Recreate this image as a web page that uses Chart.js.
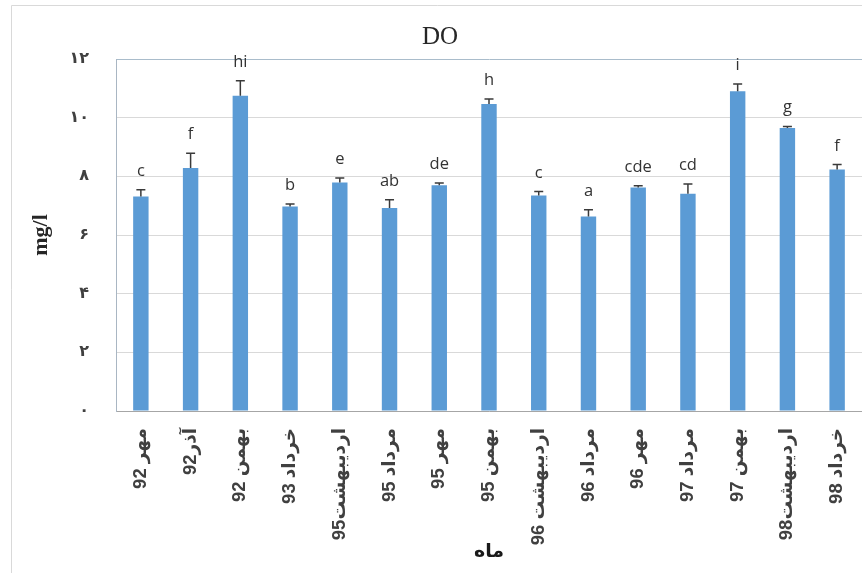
<!DOCTYPE html>
<html>
<head>
<meta charset="utf-8">
<script src="https://cdn.jsdelivr.net/npm/chart.js@4.4.1/dist/chart.umd.min.js"></script>
<style>
  html, body { margin: 0; padding: 0; background: #ffffff; }
  #wrap { width: 862px; height: 573px; position: relative; }
</style>
</head>
<body>
<div id="wrap"><canvas id="c" width="862" height="573" dir="rtl"></canvas></div>
<script>
// ---- data ----
const categories = ['مهر 92', 'آذر92', 'بهمن 92', 'خرداد 93', 'اردیبهشت95', 'مرداد 95', 'مهر 95', 'بهمن 95', 'اردیبهشت 96', 'مرداد 96', 'مهر 96', 'مرداد 97', 'بهمن 97', 'اردیبهشت98', 'خرداد 98'];
const doMeans = [7.31, 8.28, 10.75, 6.97, 7.79, 6.92, 7.70, 10.47, 7.35, 6.63, 7.62, 7.41, 10.90, 9.65, 8.23];
const doErrors = [0.23, 0.51, 0.51, 0.09, 0.15, 0.28, 0.07, 0.17, 0.13, 0.23, 0.06, 0.33, 0.25, 0.05, 0.17];
const groupLetters = ['c', 'f', 'hi', 'b', 'e', 'ab', 'de', 'h', 'c', 'a', 'cde', 'cd', 'i', 'g', 'f'];
const yTickValues = [0, 2, 4, 6, 8, 10, 12];
const yTickLabels = ['۰', '۲', '۴', '۶', '۸', '۱۰', '۱۲'];
const chartTitle = 'DO';
const yTitle = 'mg/l';
const xTitle = 'ماه';

// ---- plugins ----
const framePlugin = {
  id: 'frame',
  beforeDraw(chart) {
    const ctx = chart.ctx;
    ctx.save();
    ctx.strokeStyle = '#d9d9d9';
    ctx.lineWidth = 1;
    ctx.beginPath();
    ctx.moveTo(11.5, 600);
    ctx.lineTo(11.5, 5.5);
    ctx.lineTo(900, 5.5);
    ctx.stroke();
    ctx.restore();
  },
  afterDraw(chart) {
    const ctx = chart.ctx;
    ctx.save();
    ctx.fillStyle = '#262626';
    ctx.font = '25px "Liberation Serif", "DejaVu Serif", serif';
    ctx.textAlign = 'center';
    ctx.textBaseline = 'middle';
    ctx.fillText(chartTitle, 440, 37);
    ctx.restore();
  }
};

const errorBarPlugin = {
  id: 'errorBars',
  afterDatasetsDraw(chart) {
    const ctx = chart.ctx;
    const xs = chart.scales.x, ys = chart.scales.y;
    ctx.save();
    ctx.strokeStyle = '#3a3a3a';
    ctx.lineWidth = 1.5;
    ctx.fillStyle = '#333333';
    ctx.font = '16.5px "Open Sans", "Liberation Sans", sans-serif';
    ctx.textAlign = 'center';
    ctx.textBaseline = 'alphabetic';
    doMeans.forEach((m, i) => {
      const x = xs.getPixelForValue(i);
      const yb = ys.getPixelForValue(m);
      const yt = ys.getPixelForValue(m + doErrors[i]);
      ctx.beginPath();
      ctx.moveTo(x, yb);
      ctx.lineTo(x, yt);
      ctx.moveTo(x - 4.5, yt);
      ctx.lineTo(x + 4.5, yt);
      ctx.stroke();
      ctx.fillText(groupLetters[i], x, yt - 14);
    });
    ctx.restore();
  }
};

new Chart(document.getElementById('c'), {
  type: 'bar',
  data: {
    labels: categories,
    datasets: [{
      label: chartTitle,
      data: doMeans,
      backgroundColor: '#5b9bd5',
      borderWidth: 0,
      categoryPercentage: 1.0,
      barPercentage: 0.31
    }]
  },
  options: {
    responsive: false,
    animation: false,
    layout: { padding: { top: 59, left: 0, right: 0, bottom: 0 } },
    plugins: {
      legend: { display: false },
      tooltip: { enabled: false },
      title: { display: false }
    },
    scales: {
      x: {
        grid: { display: false, drawTicks: false },
        border: { display: true, color: '#a6a6a6', width: 1 },
        ticks: {
          minRotation: 90,
          maxRotation: 90,
          autoSkip: false,
          padding: 17,
          color: '#404040',
          font: { family: '"Liberation Sans", "DejaVu Sans", sans-serif', size: 18.5, weight: 'bold' }
        },
        title: {
          display: true,
          text: xTitle,
          color: '#1a1a1a',
          padding: { top: 0, bottom: 10 },
          font: { family: '"DejaVu Sans", sans-serif', size: 19, weight: 'bold' }
        },
        afterFit(scale) {
          scale.height = 162;
          scale.paddingLeft = 0;
          scale.paddingRight = 0;
        }
      },
      y: {
        min: 0,
        max: 12,
        afterBuildTicks(scale) { scale.ticks = yTickValues.map(v => ({ value: v })); },
        grid: {
          drawTicks: false,
          color: (c) => c.tick && c.tick.value === 12 ? '#a9bccb' : '#d9d9d9',
          lineWidth: 1
        },
        border: { display: true, color: '#a9b6c3', width: 1 },
        ticks: {
          padding: 27,
          color: '#404040',
          font: { family: '"DejaVu Sans", sans-serif', size: 16, weight: 'bold' },
          callback: (v, i) => yTickLabels[i]
        },
        title: {
          display: true,
          text: yTitle,
          color: '#262626',
          padding: { top: 28, bottom: 0 },
          font: { family: '"Liberation Serif", "DejaVu Serif", serif', size: 22, weight: 'bold' }
        },
        afterFit(scale) {
          scale.width = 116;
          scale.paddingTop = 0;
          scale.paddingBottom = 0;
        }
      }
    }
  },
  plugins: [framePlugin, errorBarPlugin]
});
</script>
</body>
</html>
